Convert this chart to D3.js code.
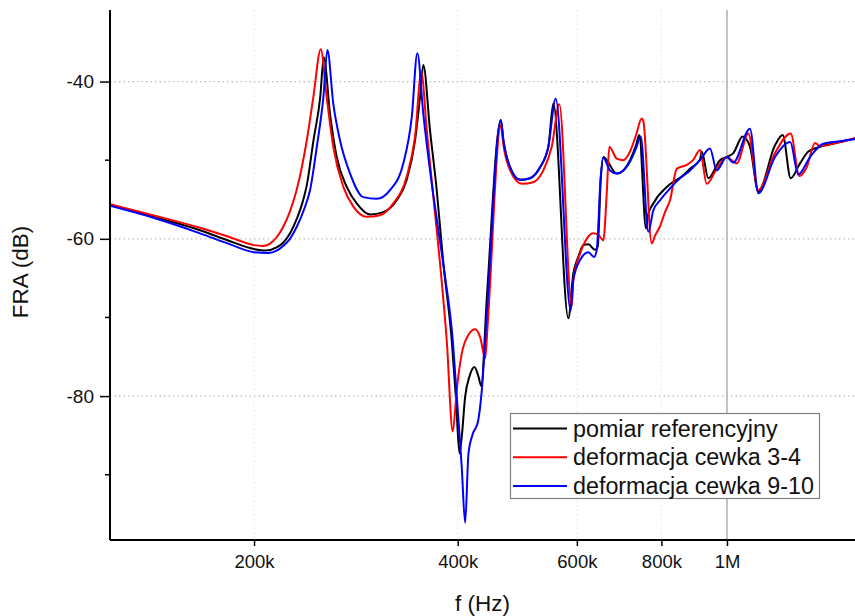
<!DOCTYPE html>
<html>
<head>
<meta charset="utf-8">
<script src="https://cdn.jsdelivr.net/npm/d3@7"></script>
<style>
  body { margin: 0; background: #fff; }
  svg { display: block; font-family: Arial, "Liberation Sans", sans-serif; }
</style>
</head>
<body>
<svg class="chart" width="855" height="616"></svg>
<script>
// frequency in kHz, FRA in dB
var refData = [
  [122.5,-55.7],[140.4,-57.1],[166.4,-58.9],[184.3,-60.3],[200,-61.3],[208,-61.5],[216,-61.1],
  [220.8,-60.5],[226.1,-59.3],[231.2,-57.5],[236,-55.3],[239.3,-53.2],[244.7,-47.6],[250.5,-42.0],
  [253.6,-36.9],[259.0,-44.1],
  [265.0,-49.6],[274.2,-53.4],[283.6,-55.5],[296.8,-56.9],[310.5,-56.6],[325.0,-55.1],[336.2,-52.5],
  [345.9,-47.5],[351.8,-42.0],[355.8,-37.9],[364.0,-46.2],[372.4,-53.8],[380.9,-63.1],[391.9,-72.9],
  [397.7,-80.5],[402.4,-87.3],[405.5,-85.2],[410.2,-80.1],[416.3,-77.5],[423.4,-76.3],[429.2,-77.5],
  [433.2,-78.7],[441.7,-67.4],[463.2,-44.9],[467.3,-47.5],[478.1,-50.9],[494.7,-52.5],[511.4,-52.3],
  [529.3,-50.9],[544.5,-48.3],[553.8,-42.8],[582.8,-70.1],[592.8,-64.4],[603.0,-62.3],[613.3,-60.8],
  [623.9,-60.7],[638.3,-61.4],[644.1,-61.0],[650.7,-52.6],[656.5,-49.6],[687.2,-51.7],[702.8,-51.3],
  [718.9,-50.0],[733.8,-48.1],[742.0,-46.8],[759.2,-58.7],[764.3,-57.0],[778.2,-55.5],[814.6,-53.4],
  [861.9,-51.9],[881.8,-51.1],[912.3,-49.9],[917.6,-48.9],[938.4,-52.3],[976.5,-50.0],[999.0,-49.6],
  [1021.7,-49.1],[1055.0,-47.0],[1081.5,-48.3],[1112.5,-54.0],[1177.6,-48.1],[1208.8,-46.8],
  [1242.2,-52.3],[1282.2,-50.4],[1318.9,-48.9],[1372.4,-48.3],[1469.1,-47.7],[1546,-47.2]
];

var def34Data = [
  [122.5,-55.6],[140.4,-56.9],[166.4,-58.6],[184.3,-59.8],[200,-60.8],[206,-60.9],[211.2,-60.6],
  [216,-59.8],[220.8,-58.5],[226,-56.5],[231.2,-53.8],[239.3,-47.5],[244.7,-42.0],[251.0,-35.9],
  [256.1,-42.0],[261.9,-48.3],[271.0,-53.4],
  [280.4,-55.9],[293.5,-57.2],[307.0,-57.0],[321.2,-55.5],[336.2,-52.1],[345.9,-47.0],[353.4,-38.8],
  [360.0,-46.2],[368.2,-54.7],[376.6,-63.1],[385.3,-72.9],[393.3,-84.5],[398.7,-79.2],[405.5,-74.6],
  [414.9,-72.2],[424.5,-71.5],[431.7,-72.5],[439.2,-75.2],[442.6,-71.3],[463.2,-45.6],[467.3,-48.1],
  [478.1,-51.3],[497.6,-53.0],[517.2,-52.8],[535.3,-51.3],[550.8,-48.3],[565.2,-42.9],[589.6,-68.6],
  [592.8,-65.2],[606.5,-61.9],[620.5,-60.0],[634.6,-59.3],[645.5,-59.5],[656.5,-60.2],[664.2,-54.2],
  [670.1,-48.3],[687.2,-49.8],[702.8,-50.0],[718.9,-48.9],[733.8,-46.8],[748.1,-44.7],[752.2,-45.0],
  [774.0,-60.6],[782.8,-59.6],[796.2,-58.4],[809.9,-56.6],[823.8,-55.1],[842.8,-51.1],[871.9,-50.6],
  [890.8,-50.0],[912.3,-48.7],[933.3,-53.0],[965.6,-51.1],[999.0,-49.6],[1033.6,-50.4],[1075.2,-46.6],
  [1112.5,-53.8],[1177.6,-49.1],[1242.2,-46.6],[1279.1,-52.0],[1311.7,-50.9],[1349.3,-47.8],
  [1372.4,-48.2],[1469.1,-47.7],[1546,-47.2]
];

var def910Data = [
  [122.5,-55.8],[140.4,-57.2],[166.4,-59.3],[184.3,-60.7],[200,-61.7],[210,-61.8],[216,-61.5],
  [220.8,-60.9],[226,-60.0],[231.2,-58.5],[237,-56.3],[242.0,-53.8],[247.6,-48.3],[253.2,-42.0],
  [256.7,-36.0],[261.9,-42.8],[268.0,-47.5],
  [277.3,-51.7],[290.1,-54.7],[303.6,-54.9],[317.7,-53.8],[332.4,-50.4],[342.1,-44.5],[348.6,-36.4],
  [355.8,-44.1],[364.0,-51.3],[374.5,-58.9],[383.1,-64.8],[393.3,-72.9],[398.7,-80.1],[405.5,-89.0],
  [410.2,-96.1],[414.9,-87.3],[421.1,-84.8],[428.4,-83.3],[434.2,-79.2],[441.7,-69.5],[463.2,-44.9],
  [467.3,-47.5],[478.1,-50.9],[494.7,-52.5],[511.4,-52.3],[529.3,-50.9],[544.5,-48.3],[558.3,-42.2],
  [587.6,-69.1],[592.8,-65.2],[606.5,-62.7],[623.9,-61.7],[636.1,-62.3],[642.0,-61.4],[650.7,-52.1],
  [656.5,-49.7],[671.7,-51.3],[687.2,-51.7],[702.8,-51.3],[718.9,-50.2],[733.8,-48.5],[745.6,-47.0],
  [765.1,-59.1],[778.2,-56.4],[796.2,-55.1],[823.8,-53.6],[847.4,-52.5],[881.8,-51.3],[912.3,-50.0],
  [943.9,-48.5],[965.6,-51.3],[999.0,-49.6],[1021.7,-50.3],[1081.5,-46.0],[1112.5,-54.2],
  [1177.6,-49.6],[1240.0,-47.7],[1274.8,-51.8],[1326.5,-49.6],[1387.9,-47.9],[1469.1,-47.6],[1546,-47.3]
];

var seriesNames = ["pomiar referencyjny", "deformacja cewka 3-4", "deformacja cewka 9-10"];
var seriesColors = ["#000000", "#ff0000", "#0000ff"];
var xTicks = [200, 400, 600, 800, 1000];
var xTickLabels = ["200k", "400k", "600k", "800k", "1M"];
var yTicks = [-40, -60, -80];
var yTickLabels = ["-40", "-60", "-80"];
var yMinorTicks = [-50, -70, -90];

(function(){
    var svg = d3.select("svg.chart");
    var left = 110, right = 855, top = 10, bottom = 540;

    var x = d3.scaleLog().domain([122.5, 1546]).range([left, right]);
    var y = d3.scaleLinear().domain([-98.3, -30.9]).range([bottom, top]);

    svg.append("defs").append("clipPath").attr("id", "plot-clip")
        .append("rect")
        .attr("x", left).attr("y", top)
        .attr("width", right - left).attr("height", bottom - top);

    // grid
    var grid = svg.append("g").attr("id", "grid");
    grid.selectAll("line.hgrid")
        .data(yTicks)
        .enter().append("line")
        .attr("class", "hgrid")
        .attr("x1", left).attr("x2", right)
        .attr("y1", function(d) { return y(d); })
        .attr("y2", function(d) { return y(d); })
        .attr("stroke", "#bdbdbd")
        .attr("stroke-width", 1.2)
        .attr("stroke-dasharray", "1.5,3");

    grid.selectAll("line.vgrid")
        .data(xTicks)
        .enter().append("line")
        .attr("class", "vgrid")
        .attr("x1", function(d) { return x(d); })
        .attr("x2", function(d) { return x(d); })
        .attr("y1", top).attr("y2", bottom)
        .attr("stroke", function(d) { return d === 1000 ? "#b4b4b4" : "#e6e6e6"; })
        .attr("stroke-width", function(d) { return d === 1000 ? 1.6 : 1; })
        .attr("stroke-dasharray", function(d) { return d === 1000 ? null : "1.5,3"; });

    // curves
    var line = d3.line()
        .x(function(d) { return x(d[0]); })
        .y(function(d) { return y(d[1]); })
        .curve(d3.curveMonotoneX);

    svg.append("g")
        .attr("id", "curves")
        .attr("clip-path", "url(#plot-clip)")
        .selectAll("path")
        .data([refData, def34Data, def910Data])
        .enter().append("path")
        .attr("d", line)
        .attr("fill", "none")
        .attr("stroke", function(d, i) { return seriesColors[i]; })
        .attr("stroke-width", 2)
        .attr("stroke-linejoin", "round");

    // axes
    var xAxis = d3.axisBottom(x)
        .tickValues(xTicks)
        .tickFormat(function(d, i) { return xTickLabels[i]; })
        .tickSize(6)
        .tickPadding(9);

    var gx = svg.append("g")
        .attr("transform", "translate(0," + bottom + ")")
        .call(xAxis);
    gx.select(".domain").attr("stroke-width", 2).attr("d", "M" + left + ",0H" + right);
    gx.selectAll(".tick line").attr("stroke-width", 1.5);
    gx.selectAll(".tick text").attr("font-size", 18.5).attr("font-family", "Arial, 'Liberation Sans', sans-serif").attr("fill", "#111");

    var yAxis = d3.axisLeft(y)
        .tickValues(yTicks)
        .tickFormat(function(d, i) { return yTickLabels[i]; })
        .tickSize(10)
        .tickPadding(6);

    var gy = svg.append("g")
        .attr("transform", "translate(" + left + ",0)")
        .call(yAxis);
    gy.select(".domain").attr("stroke-width", 2).attr("d", "M0," + top + "V" + bottom);
    gy.selectAll(".tick line").attr("stroke-width", 1.5);
    gy.selectAll(".tick text").attr("font-size", 19).attr("font-family", "Arial, 'Liberation Sans', sans-serif").attr("fill", "#111");

    gy.selectAll("line.minor")
        .data(yMinorTicks)
        .enter().append("line")
        .attr("class", "minor")
        .attr("x1", -5).attr("x2", 0)
        .attr("y1", function(d) { return y(d); })
        .attr("y2", function(d) { return y(d); })
        .attr("stroke", "#000")
        .attr("stroke-width", 1.5);

    // axis titles
    svg.append("text")
        .attr("x", (left + right) / 2)
        .attr("y", 611)
        .attr("text-anchor", "middle")
        .attr("font-size", 22.5)
        .attr("fill", "#111")
        .text("f (Hz)");

    svg.append("text")
        .attr("transform", "translate(28," + ((top + bottom) / 2 - 3) + ") rotate(-90)")
        .attr("text-anchor", "middle")
        .attr("font-size", 22.5)
        .attr("fill", "#111")
        .text("FRA (dB)");

    // legend
    var legend = svg.append("g").attr("id", "legend");
    legend.append("rect")
        .attr("x", 510.5).attr("y", 413.5)
        .attr("width", 309).attr("height", 85)
        .attr("fill", "#fff")
        .attr("stroke", "#808080")
        .attr("stroke-width", 1.2);

    var item = legend.selectAll("g.item")
        .data(seriesNames)
        .enter().append("g")
        .attr("class", "item")
        .attr("transform", function(d, i) { return "translate(0," + (428.5 + i * 28.8) + ")"; });

    item.append("line")
        .attr("x1", 513).attr("x2", 567)
        .attr("y1", 0).attr("y2", 0)
        .attr("stroke", function(d, i) { return seriesColors[i]; })
        .attr("stroke-width", 2);

    item.append("text")
        .attr("x", 573)
        .attr("y", 0)
        .attr("dy", "0.35em")
        .attr("font-size", 23.3)
        .attr("fill", "#111")
        .text(function(d) { return d; });
})();
</script>
</body>
</html>
